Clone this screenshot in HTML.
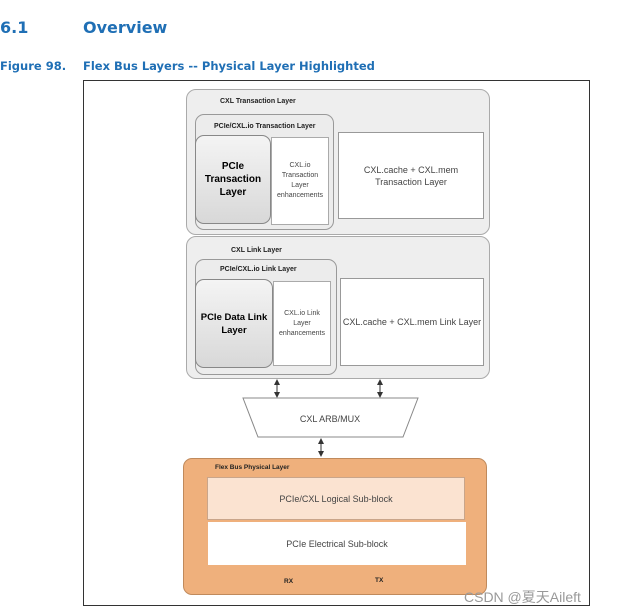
<!DOCTYPE html>
<html><head><style>
body{margin:0;width:619px;height:613px;background:#fff;font-family:"DejaVu Sans","Liberation Sans",sans-serif;position:relative;overflow:hidden}
.a{position:absolute;box-sizing:border-box;font-family:"Liberation Sans",sans-serif;white-space:nowrap}
.t{position:absolute;white-space:nowrap;font-family:"Liberation Sans",sans-serif;color:#222}
.c{display:flex;align-items:center;justify-content:center;text-align:center}
</style></head><body>
<div class="t" style="left:0;top:18px;font-family:'DejaVu Sans',sans-serif;font-weight:bold;font-size:16px;color:#1f6fb5">6.1</div>
<div class="t" style="left:83px;top:18px;font-family:'DejaVu Sans',sans-serif;font-weight:bold;font-size:16px;color:#1f6fb5">Overview</div>
<div class="t" style="left:0;top:59px;font-family:'DejaVu Sans',sans-serif;font-weight:bold;font-size:11.5px;color:#1f6fb5">Figure 98.</div>
<div class="t" style="left:83px;top:59px;font-family:'DejaVu Sans',sans-serif;font-weight:bold;font-size:11.5px;color:#1f6fb5">Flex Bus Layers -- Physical Layer Highlighted</div>
<div class="a" style="left:83px;top:80px;width:507px;height:526px;border:1px solid #333"></div>

<div class="a" style="left:186px;top:89px;width:304px;height:146px;border:1px solid #aaa;border-radius:10px;background:#eee"></div>
<div class="t" style="left:220px;top:98px;font-size:7px;font-weight:bold">CXL Transaction Layer</div>
<div class="a" style="left:195px;top:114px;width:139px;height:116px;border:1px solid #999;border-radius:9px;background:#ececec"></div>
<div class="t" style="left:214px;top:123px;font-size:7px;font-weight:bold">PCIe/CXL.io Transaction Layer</div>
<div class="a c" style="left:195px;top:135px;width:76px;height:89px;border:1px solid #888;border-radius:9px;background:linear-gradient(#f4f4f4,#d8d8d8);font-size:10px;font-weight:bold;line-height:13px">PCIe<br>Transaction<br>Layer</div>
<div class="a c" style="left:271px;top:137px;width:58px;height:88px;border:1px solid #aaa;background:#fff;font-size:7px;line-height:10px;color:#444">CXL.io<br>Transaction<br>Layer<br>enhancements</div>
<div class="a c" style="left:338px;top:132px;width:146px;height:87px;border:1px solid #999;background:#fff;font-size:9px;line-height:12px;color:#444">CXL.cache + CXL.mem<br>Transaction Layer</div>

<div class="a" style="left:186px;top:236px;width:304px;height:143px;border:1px solid #aaa;border-radius:10px;background:#eee"></div>
<div class="t" style="left:231px;top:247px;font-size:7px;font-weight:bold">CXL Link Layer</div>
<div class="a" style="left:195px;top:259px;width:142px;height:116px;border:1px solid #999;border-radius:9px;background:#ececec"></div>
<div class="t" style="left:220px;top:266px;font-size:7px;font-weight:bold">PCIe/CXL.io Link Layer</div>
<div class="a c" style="left:195px;top:279px;width:78px;height:89px;border:1px solid #888;border-radius:9px;background:linear-gradient(#f4f4f4,#d8d8d8);font-size:9.5px;font-weight:bold;line-height:13px">PCIe Data Link<br>Layer</div>
<div class="a c" style="left:273px;top:281px;width:58px;height:85px;border:1px solid #aaa;background:#fff;font-size:7px;line-height:10px;color:#444">CXL.io Link<br>Layer<br>enhancements</div>
<div class="a c" style="left:340px;top:278px;width:144px;height:88px;border:1px solid #999;background:#fff;font-size:9px;color:#444">CXL.cache + CXL.mem Link Layer</div>

<svg class="a" style="left:0;top:0" width="619" height="613">
<defs><marker id="m" markerWidth="6" markerHeight="6" refX="5" refY="3" orient="auto-start-reverse"><path d="M0,0L6,3L0,6z" fill="#333"/></marker></defs>
<line x1="277" y1="380" x2="277" y2="397" stroke="#333" marker-start="url(#m)" marker-end="url(#m)"/>
<line x1="380" y1="380" x2="380" y2="397" stroke="#333" marker-start="url(#m)" marker-end="url(#m)"/>
<line x1="321" y1="439" x2="321" y2="456" stroke="#333" marker-start="url(#m)" marker-end="url(#m)"/>
<polygon points="243,398 418,398 403,437 258,437" fill="#fff" stroke="#888"/>
<text x="330" y="422" font-family="Liberation Sans" font-size="9" text-anchor="middle" fill="#444">CXL ARB/MUX</text>
</svg>

<div class="a" style="left:183px;top:458px;width:304px;height:137px;border:1px solid #c08a5c;border-radius:9px;background:#efb07c"></div>
<div class="t" style="left:215px;top:464px;font-size:6.5px;font-weight:bold">Flex Bus Physical Layer</div>
<div class="a c" style="left:207px;top:477px;width:258px;height:43px;border:1px solid #c9a58a;background:#fbe3d1;font-size:9px;color:#444">PCIe/CXL Logical Sub-block</div>
<div class="a c" style="left:208px;top:522px;width:258px;height:43px;background:#fff;font-size:9px;color:#444">PCIe Electrical Sub-block</div>
<div class="t" style="left:284px;top:578px;font-size:6.5px;font-weight:bold">RX</div>
<div class="t" style="left:375px;top:577px;font-size:6.5px;font-weight:bold">TX</div>
<div class="t" style="left:464px;top:587px;font-size:14px;color:#999;font-family:'Liberation Sans','Noto Sans CJK SC',sans-serif">CSDN @夏天Aileft</div>
</body></html>
